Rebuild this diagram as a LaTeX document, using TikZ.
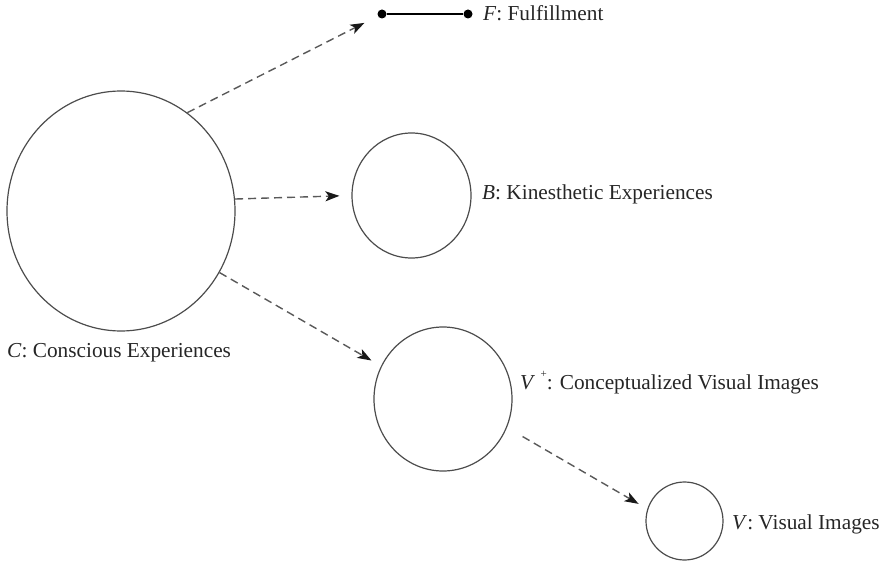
\documentclass[tikz,border=0pt]{standalone}
\usepackage{fontspec}
\setmainfont{Liberation Serif}
\usetikzlibrary{arrows.meta,shapes.geometric}
\begin{document}
\begin{tikzpicture}[x=1pt,y=-1pt,
  setnode/.style={ellipse, draw=black!70, line width=1.2pt, inner sep=0pt},
  flow/.style={draw=black!65, line width=1.4pt, dash pattern=on 8pt off 5pt,
    -{Stealth[length=14pt,width=10pt,inset=3.5pt,color=black!90]}},
  lbl/.style={anchor=base west, inner sep=0pt, text=black!85,
    font=\fontsize{21.3}{25}\selectfont},
  fdot/.style={circle, fill=black, inner sep=0pt, minimum size=9pt}]
\useasboundingbox (0,0) rectangle (886,564);
% sets
\node[setnode, minimum width=228pt, minimum height=240pt] (C) at (121,211) {};
\node[setnode, minimum width=119pt, minimum height=125pt] (B) at (411.5,195.5) {};
\node[setnode, minimum width=138pt, minimum height=144pt] (Vp) at (443,399) {};
\node[setnode, minimum width=77pt, minimum height=78pt] (V) at (684.5,521) {};
% fulfillment segment
\node[fdot] (fa) at (382,14) {};
\node[fdot] (fb) at (468,14) {};
\draw[line width=1.8pt] (fa) -- (fb);
% labels
\node[lbl] (lC) at (7,357) {\textit{C}: Conscious Experiences};
\node[lbl] (lF) at (483,21) {\textit{F}: Fulfillment};
\node[lbl] (lB) at (482,200) {\textit{B}: Kinesthetic Experiences};
\node[lbl] (lVp) at (520,389) {\textit{V}\hspace{0.25em}\raisebox{0.55em}{\fontsize{11}{12}\selectfont +}: Conceptualized Visual Images};
\node[lbl] (lV) at (732,529) {\textit{V}: Visual Images};
% arrows
\draw[flow, shorten >=15pt] (C.56) -- (fa);
\draw[flow, shorten >=12pt] (C.6) -- (B.180);
\draw[flow, shorten >=11pt] (C.-32) -- (Vp.152);
\draw[flow, shorten <=18pt, shorten >=10pt] (Vp.-24) -- (V.162);
\end{tikzpicture}
\end{document}
